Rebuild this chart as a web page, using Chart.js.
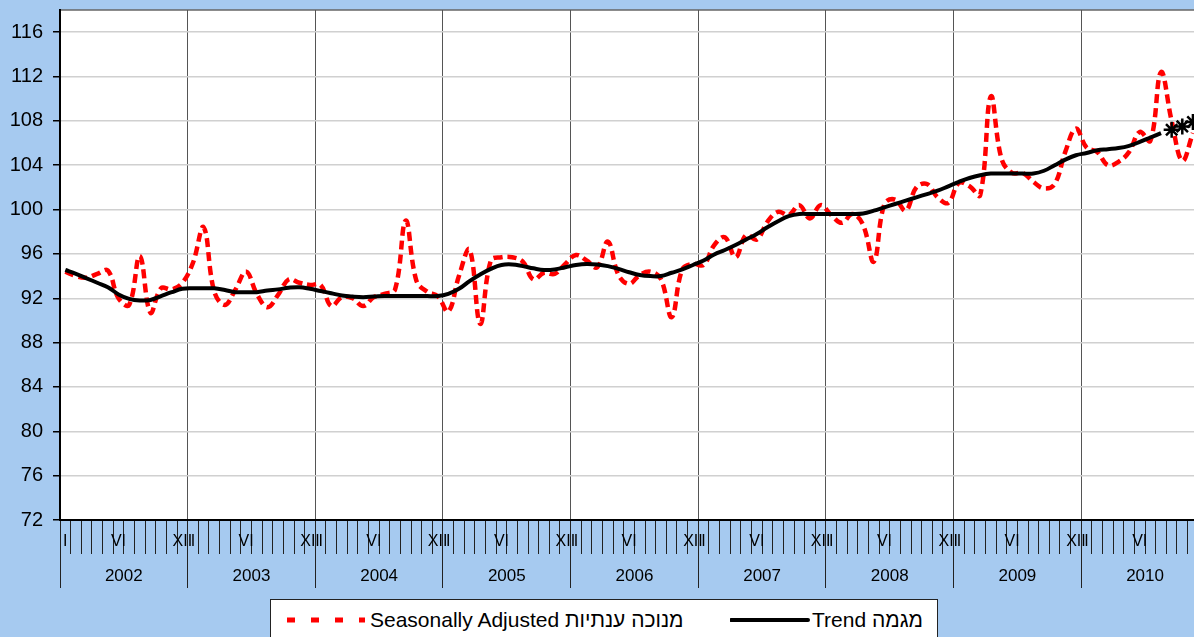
<!DOCTYPE html>
<html>
<head>
<meta charset="utf-8">
<script src="https://cdn.jsdelivr.net/npm/chart.js@4.4.1/dist/chart.umd.min.js"></script>
<style>
  html, body { margin: 0; padding: 0; background: #A6CAF0; overflow: hidden; }
  #wrap { position: relative; width: 1194px; height: 637px; }
  #legend {
    position: absolute; left: 270px; top: 599px; width: 668px; height: 60px;
    background: #fff; border: 1px solid #222; box-sizing: border-box;
    font-family: "Liberation Sans", Arial, sans-serif; font-size: 21px; color: #000;
  }
  .lg-text { position: absolute; top: 8px; line-height: 24px; white-space: nowrap; }
  .lg-mark { position: absolute; top: 16px; }
</style>
</head>
<body>
<div id="wrap">
  <canvas id="chart" width="1194" height="637"></canvas>
  <div id="legend">
    <svg class="lg-mark" style="left:16px" width="80" height="8">
      <line x1="0" y1="4" x2="78" y2="4" stroke="#ff0000" stroke-width="5" stroke-dasharray="8 16"/>
    </svg>
    <span class="lg-text" style="left:99px">Seasonally Adjusted מנוכה ענתיות</span>
    <svg class="lg-mark" style="left:459px" width="80" height="8">
      <line x1="1" y1="4" x2="78" y2="4" stroke="#000" stroke-width="4" stroke-linecap="round"/>
    </svg>
    <span class="lg-text" style="left:541px">Trend מגמה</span>
  </div>
</div>
<script>
// ---- data (monthly, Jan 2002 onwards) ----
const years = [2002, 2003, 2004, 2005, 2006, 2007, 2008, 2009, 2010];
const monthLabels = ['I', '', '', '', '', 'VI', '', '', '', '', '', 'XII'];
const yTicks = [72, 76, 80, 84, 88, 92, 96, 100, 104, 108, 112, 116];

const seasAdj = [
  94.4, 94.0, 93.85, 94.2, 94.5, 92.0, 91.4, 95.8, 90.7, 92.9, 92.8, 93.4,       // 2002
  95.2, 98.4, 92.6, 91.4, 92.8, 94.4, 92.4, 91.2, 92.3, 93.7, 93.4, 93.2,        // 2003
  93.2, 91.3, 92.1, 92.0, 91.3, 92.1, 92.4, 92.8, 99.0, 93.6, 92.6, 92.2,        // 2004
  90.8, 94.0, 96.4, 89.7, 95.4, 95.7, 95.7, 95.3, 93.7, 94.3, 94.2, 95.1,        // 2005
  95.9, 95.4, 94.8, 97.1, 94.1, 93.3, 94.1, 94.4, 93.7, 90.3, 94.6, 95.1,        // 2006
  95.0, 96.8, 97.5, 95.7, 97.7, 97.3, 98.9, 99.8, 99.5, 100.4, 99.2, 100.4,      // 2007
  99.5, 98.8, 99.6, 98.6, 95.3, 100.5, 100.9, 99.9, 102.0, 102.3, 101.1, 100.6,  // 2008
  102.4, 102.1, 101.3, 110.2, 104.6, 103.3, 103.3, 102.5, 101.9, 102.3, 105.2, 107.3, // 2009
  105.6, 105.2, 104.0, 104.3, 105.2, 107.0, 106.2, 112.4, 108.0, 104.4, 106.9    // 2010
];

const trend = [
  94.55, 94.2, 93.8, 93.4, 93.0, 92.35, 91.95, 91.8, 91.85, 92.2, 92.55, 92.85,
  92.9, 92.9, 92.9, 92.75, 92.55, 92.55, 92.55, 92.7, 92.8, 92.95, 93.0, 92.85,
  92.65, 92.45, 92.25, 92.15, 92.1, 92.15, 92.2, 92.2, 92.2, 92.2, 92.2, 92.2,
  92.4, 92.85, 93.55, 94.15, 94.65, 95.0, 95.05, 94.9, 94.7, 94.55, 94.6, 94.8,
  95.0, 95.1, 95.05, 94.9, 94.65, 94.35, 94.1, 94.0, 94.0, 94.3, 94.6, 95.0,
  95.4, 95.95, 96.35, 96.8, 97.3, 97.8, 98.4, 98.95, 99.4, 99.6, 99.6, 99.6,
  99.6, 99.6, 99.6, 99.65, 99.9, 100.2, 100.5, 100.8, 101.1, 101.4, 101.7, 102.1,
  102.5, 102.85, 103.1, 103.25, 103.25, 103.25, 103.25, 103.25, 103.5, 104.0, 104.5, 104.9,
  105.1, 105.35, 105.45, 105.55, 105.75, 106.1, 106.5, 106.9
];

// forecast trend points (stars), continuing right after the trend line
const trendForecast = [107.2, 107.5, 107.9];

const X_MAX = 106.6; // visible months
const FONT = '"Liberation Sans", Arial, sans-serif';

// month k sits in the middle of its slot
const toPoints = (arr, start) => arr.map((v, i) => ({ x: start + i + 0.5, y: v }));

const clear = 'rgba(0,0,0,0)';

// white plot area + grey top frame
const plotFrame = {
  id: 'plotFrame',
  beforeDraw(chart) {
    const { ctx, chartArea: a } = chart;
    ctx.save();
    ctx.fillStyle = '#fff';
    ctx.fillRect(a.left, a.top, a.right - a.left, a.bottom - a.top);
    ctx.strokeStyle = '#666';
    ctx.lineWidth = 1.5;
    ctx.beginPath();
    ctx.moveTo(a.left, a.top);
    ctx.lineTo(a.right, a.top);
    ctx.stroke();
    ctx.restore();
  }
};

new Chart(document.getElementById('chart'), {
  type: 'line',
  data: {
    datasets: [
      {
        label: 'Trend forecast',
        data: toPoints(trendForecast, trend.length),
        showLine: false,
        pointStyle: 'star',
        pointRadius: 8,
        borderColor: '#000',
        borderWidth: 2.5,
      },
      {
        label: 'Trend מגמה',
        data: toPoints(trend, 0),
        borderColor: '#000',
        borderWidth: 4,
        pointRadius: 0,
        tension: 0.4,
      },
      {
        label: 'Seasonally Adjusted מנוכה ענתיות',
        data: toPoints(seasAdj, 0),
        borderColor: '#ff0000',
        borderWidth: 4.5,
        borderDash: [9, 5],
        pointRadius: 0,
        tension: 0.4,
      },
    ],
  },
  options: {
    responsive: false,
    animation: false,
    devicePixelRatio: 1,
    layout: { autoPadding: false, padding: { top: 10, bottom: 49, left: 0, right: 0 } },
    plugins: {
      legend: { display: false },
      tooltip: { enabled: false },
    },
    scales: {
      x: {
        type: 'linear',
        position: 'bottom',
        weight: 0,
        min: 0,
        max: X_MAX,
        afterBuildTicks: (s) => {
          s.ticks = [];
          for (let v = 0; v < X_MAX; v += 0.5) s.ticks.push({ value: v });
        },
        afterFit: (s) => { s.height = 34; s.paddingLeft = 0; s.paddingRight = 0; },
        grid: {
          drawOnChartArea: true,
          lineWidth: 1,
          color: (c) => (c.tick && c.tick.value > 0 && c.tick.value % 12 === 0 ? '#555' : clear),
          tickColor: (c) => (c.tick && c.tick.value % 1 === 0 ? '#222' : clear),
          tickLength: 34,
        },
        border: { color: '#000', width: 2 },
        ticks: {
          autoSkip: false,
          maxRotation: 0,
          minRotation: 0,
          padding: -22,
          color: '#000',
          font: { family: FONT, size: 16 },
          callback: (v) => (v % 1 === 0.5 ? monthLabels[Math.floor(v) % 12] : ''),
        },
      },
      xYear: {
        type: 'linear',
        position: 'bottom',
        weight: 1,
        min: 0,
        max: X_MAX,
        afterBuildTicks: (s) => {
          s.ticks = [];
          for (let v = 0; v < X_MAX; v += 6) s.ticks.push({ value: v });
        },
        afterFit: (s) => { s.height = 34; s.paddingLeft = 0; s.paddingRight = 0; },
        grid: {
          drawOnChartArea: false,
          lineWidth: 1,
          tickLength: 34,
          tickColor: (c) => (c.tick && c.tick.value % 12 === 0 ? '#222' : clear),
        },
        border: { display: false },
        ticks: {
          autoSkip: false,
          maxRotation: 0,
          minRotation: 0,
          padding: -22,
          color: '#000',
          font: { family: FONT, size: 17 },
          callback: (v) => (v % 12 === 6 ? String(years[(v - 6) / 12]) : ''),
        },
      },
      y: {
        min: 72,
        max: 118,
        afterBuildTicks: (s) => { s.ticks = yTicks.map((v) => ({ value: v })); },
        afterFit: (s) => { s.width = 60; s.paddingTop = 0; s.paddingBottom = 0; },
        grid: { color: '#d0d0d0', lineWidth: 1.5, tickColor: '#000', tickLength: 7 },
        border: { color: '#000', width: 2 },
        ticks: { padding: 10, color: '#000', font: { family: FONT, size: 20 } },
      },
    },
  },
  plugins: [plotFrame],
});
</script>
</body>
</html>
